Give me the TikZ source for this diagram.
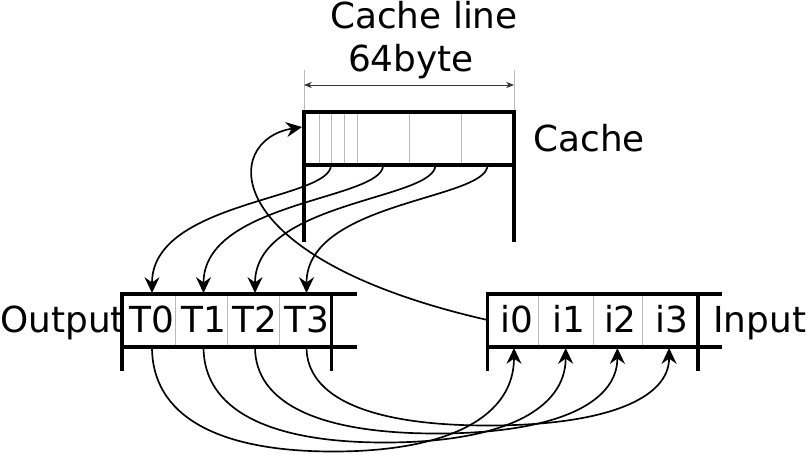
\documentclass[tikz,border=0pt]{standalone}
\usepackage{fontspec}
\setmainfont{DejaVu Sans}
\usetikzlibrary{arrows.meta,calc}

\begin{document}
\begin{tikzpicture}[x=0.02cm, y=-0.02cm, font={\fontsize{20.4pt}{24pt}\selectfont},
	wall/.style={line width=2pt},
	cell/.style={line width=0.5pt, gray!55},
	link/.style={line width=0.95pt, -{Stealth[length=9pt,width=8.5pt,inset=3pt]}},
	dim/.style={line width=0.55pt, black!80, {Stealth[length=4.5pt,width=3.5pt]}-{Stealth[length=4.5pt,width=3.5pt]}},
	lbl/.style={inner sep=0pt, anchor=base}]
	\useasboundingbox (0,0) rectangle (810,453);
	
	\foreach \x in {319,331.5,344.5,357,409,461.5}
		\draw[cell] (\x,112) -- (\x,165);
	\draw[cell] (304,70) -- (304,112);
	\draw[cell] (514,70) -- (514,112);
	\draw[dim] (304,85) -- (514,85);
	\draw[wall] (304,242) -- (304,112) -- (514,112) -- (514,242);
	\draw[wall] (304,165) -- (514,165);
	
	\foreach \x in {175,227,279}
		\draw[cell] (\x,294) -- (\x,347);
	\draw[wall] (122,371) -- (122,294) -- (357,294);
	\draw[wall] (122,347) -- (357,347);
	\draw[wall] (331.5,294) -- (331.5,371);
	
	\foreach \x in {538.5,593,642.5}
		\draw[cell] (\x,294) -- (\x,347);
	\draw[wall] (487.5,371) -- (487.5,294) -- (722,294);
	\draw[wall] (487.5,347) -- (722,347);
	\draw[wall] (698,294) -- (698,371);
	
	\node[lbl] (linelbl) at (424,28.5) {Cache line};
	\node[lbl] (sizelbl) at (411,71.7) {64byte};
	\node[lbl, anchor=base west] (cachelbl) at (533,151.7) {Cache};
	\node[lbl, anchor=base west] (outlbl) at (0,332) {Output};
	\node[lbl, anchor=base west] (inlbl) at (713,332) {Input};
	
	\foreach \i in {0,...,3} {
		\node[lbl] (T\i) at (152+51.5*\i,332) {T\i};
		\node[lbl] (i\i) at (517+51.7*\i,332) {i\i};
		\coordinate (c\i) at (331+52.2*\i,165);
		\coordinate (o\i) at (152+51.5*\i,293);
		\coordinate (ob\i) at (152+51.5*\i,347);
		\coordinate (ib\i) at (514+51.7*\i,348);
	}
	\coordinate (inL) at (487.5,320);
	\coordinate (cacheL) at (302,127);
	
	\foreach \i in {0,...,3}
		\draw[link] (c\i) .. controls +(0,35) and +(0,-92) .. (o\i);
	\foreach \i/\d in {0/104,1/95,2/86,3/78} {
		\coordinate (low\i) at ($(ob\i)!0.5!(ib\i)+(0,\d)$);
		\draw[link] (ob\i) .. controls +(0,0.65*\d) and +(-118,0) .. (low\i)
			.. controls +(118,0) and +(0,0.65*\d) .. (ib\i);
	}
	\draw[link] (inL) .. controls +(-272,-62) and +(-80,13) .. (cacheL);
\end{tikzpicture}
\end{document}
